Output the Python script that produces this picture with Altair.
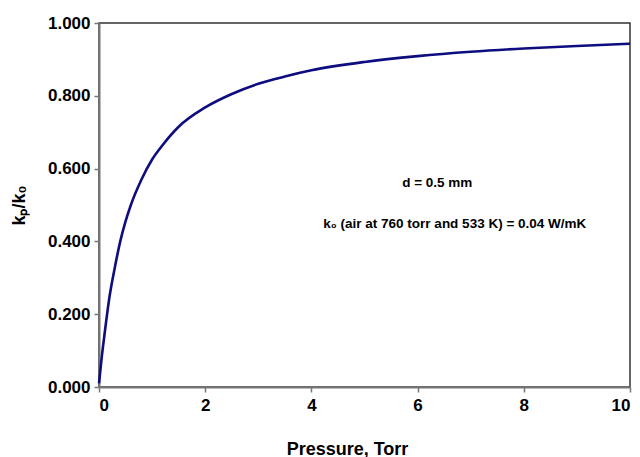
import altair as alt
import pandas as pd

pressure = [0, 0.05, 0.1, 0.2, 0.3, 0.4, 0.5, 0.6, 0.8, 1.0, 1.2, 1.5, 2.0, 2.5, 3.0, 3.5, 4.0, 5.0, 6.0, 7.0, 8.0, 9.0, 10.0]
ratio = [0.01, 0.08, 0.14, 0.25, 0.33, 0.40, 0.455, 0.50, 0.57, 0.625, 0.665, 0.715, 0.768, 0.805, 0.833, 0.853, 0.870, 0.893, 0.909, 0.921, 0.930, 0.937, 0.943]

notes = ["d = 0.5 mm", "k₀ (air at 760 torr and 533 K) = 0.04 W/mK"]
note_x = [6.37, 6.7]
note_y = [0.56, 0.448]

df = pd.DataFrame({"p": pressure, "k": ratio})
ndf = pd.DataFrame({"t": notes, "x": note_x, "y": note_y})

font = "Liberation Sans"

line = alt.Chart(df).mark_line(color="#0d0d80", strokeWidth=2.6, interpolate="monotone").encode(
    x=alt.X("p:Q", scale=alt.Scale(domain=[0, 10], nice=False),
            axis=alt.Axis(title="Pressure, Torr", values=[0, 2, 4, 6, 8, 10], format="d",
                          grid=False, titlePadding=27, labelPadding=5, titleX=248)),
    y=alt.Y("k:Q", scale=alt.Scale(domain=[0, 1], nice=False),
            axis=alt.Axis(title="kₚ/k₀", values=[0, 0.2, 0.4, 0.6, 0.8, 1.0], format=".3f",
                          grid=False, titlePadding=19, labelPadding=4)),
)

text = alt.Chart(ndf).mark_text(font=font, fontWeight="bold", fontSize=13.5, color="black").encode(
    x="x:Q", y="y:Q", text="t:N"
)

chart = (line + text).properties(
    width=531, height=364,
    autosize=alt.AutoSizeParams(type="none"),
    padding={"left": 91, "top": 15, "right": 2, "bottom": 70},
).configure_view(
    stroke="#333333", strokeWidth=1.5
).configure_axis(
    labelFont=font, titleFont=font, labelFontWeight="bold", titleFontWeight="bold",
    labelFontSize=17, titleFontSize=18, labelColor="black", titleColor="black",
    domainColor="#777777", domainWidth=2, tickColor="#777777", tickWidth=1.5, tickSize=5,
)

chart.save("out.html", embed_options={"renderer": "svg", "actions": False})
